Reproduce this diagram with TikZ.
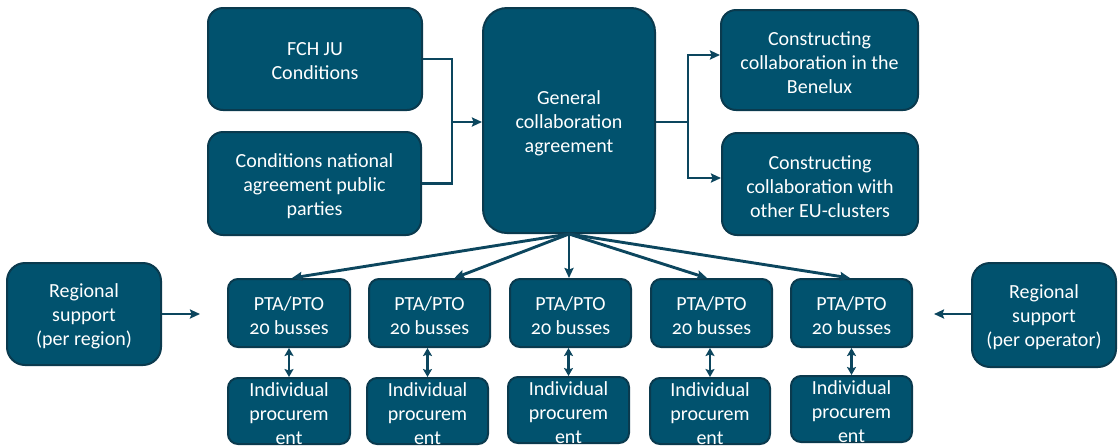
\documentclass[tikz,border=0pt]{standalone}
\usepackage{fontspec}
\setmainfont{Carlito}[Numbers=OldStyle]
\usetikzlibrary{arrows.meta}
\definecolor{boxfill}{RGB}{1,82,110}
\definecolor{boxline}{RGB}{10,58,78}
\definecolor{lineclr}{RGB}{12,70,94}
\begin{document}
\begin{tikzpicture}[x=1pt,y=-1pt,
  box/.style={draw=boxline, line width=2pt, fill=boxfill, text=white, align=center,
    inner sep=0pt, font=\fontsize{20}{24}\selectfont},
  boxtext/.style={text=white, align=center, inner sep=0pt, font=\fontsize{20}{24}\selectfont, yshift=-2.5pt},
  txt/.style={label={[boxtext]center:#1}},
  bigbox/.style={box, rounded corners=15pt},
  smallbox/.style={box, rounded corners=10pt, minimum height=68pt},
  indbox/.style={box, rounded corners=10pt, minimum height=66pt},
  link/.style={draw=lineclr, line width=2.9pt},
  arr/.style={link, -{Stealth[length=10pt,width=9pt,inset=1.5pt]}},
  dbl/.style={link, {Stealth[length=8pt,width=9pt,inset=1.5pt]}-{Stealth[length=8pt,width=9pt,inset=1.5pt]}}]
\useasboundingbox (0,0) rectangle (1118,445);
\clip (0,0) rectangle (1118,445);

% top row
\node[bigbox, minimum width=214pt, minimum height=102pt, txt={FCH JU\\Conditions}] (fch) at (315,59) {};
\node[bigbox, minimum width=213pt, minimum height=103pt, txt={Conditions national\\agreement public\\parties}] (cond) at (314.5,183.5) {};
\node[box, rounded corners=24pt, minimum width=172pt, minimum height=225pt, txt={General\\collaboration\\agreement}] (gen) at (569,120.5) {};
\node[bigbox, minimum width=197pt, minimum height=100pt, txt={Constructing\\collaboration in the\\Benelux}] (ben) at (819.5,60) {};
\node[bigbox, minimum width=196pt, minimum height=102pt, txt={Constructing\\collaboration with\\other EU-clusters}] (eu) at (820,184) {};

% regional support
\node[box, rounded corners=18pt, minimum width=154pt, minimum height=102pt, txt={Regional\\support\\(per region)}] (regl) at (84,314) {};
\node[box, rounded corners=18pt, minimum width=144pt, minimum height=104pt, txt={Regional\\support\\(per operator)}] (regr) at (1044,315) {};

% PTA/PTO row
\node[smallbox, minimum width=122pt, txt={PTA/PTO\\20 busses}] (pta1) at (289,313) {};
\node[smallbox, minimum width=121pt, txt={PTA/PTO\\20 busses}] (pta2) at (429.5,313) {};
\node[smallbox, minimum width=121pt, txt={PTA/PTO\\20 busses}] (pta3) at (570.5,313) {};
\node[smallbox, minimum width=121pt, txt={PTA/PTO\\20 busses}] (pta4) at (711.5,313) {};
\node[smallbox, minimum width=121pt, txt={PTA/PTO\\20 busses}] (pta5) at (851.5,313) {};

% individual procurement row
\node[indbox, minimum width=122pt, txt={Individual\\procurem\\ent}] (ind1) at (289,411) {};
\node[indbox, minimum width=121pt, txt={Individual\\procurem\\ent}] (ind2) at (427.5,411) {};
\node[indbox, minimum width=121pt, txt={Individual\\procurem\\ent}] (ind3) at (568.5,410) {};
\node[indbox, minimum width=120pt, txt={Individual\\procurem\\ent}] (ind4) at (710,411) {};
\node[indbox, minimum width=121pt, txt={Individual\\procurem\\ent}] (ind5) at (851.5,409) {};

% top-left joins
\coordinate (jl) at (452,122);
\draw[link] (fch.east) -| (jl) |- (cond.east);
\draw[arr] (jl) -- (jl -| gen.west);

% top-right split
\coordinate (jr) at (688,122);
\draw[link] (jr -| gen.east) -- (jr);
\draw[arr] (jr) |- ([yshift=5pt]ben.west);
\draw[arr] (jr) |- ([yshift=6pt]eu.west);

% fan out to PTA/PTO
\draw[arr] (gen.south) -- ([xshift=3pt]pta1.north);
\draw[arr] (gen.south) -- ([xshift=25pt]pta2.north);
\draw[arr] (gen.south) -- ([xshift=-1.5pt]pta3.north);
\draw[arr] (gen.south) -- ([xshift=-4.5pt]pta4.north);
\draw[arr] (gen.south) -- ([xshift=-1.5pt]pta5.north);

% regional support arrows
\coordinate (rl) at (200,314);
\coordinate (rr) at (934,314);
\draw[arr] (regl.east) -- (rl);
\draw[arr] (regr.west |- rr) -- (rr);

% double arrows
\draw[dbl] (pta1.south) -- (ind1.north);
\draw[dbl] (ind2.north |- pta2.south) -- (ind2.north);
\draw[dbl] (ind3.north |- pta3.south) -- (ind3.north);
\draw[dbl] (ind4.north |- pta4.south) -- (ind4.north);
\draw[dbl] (pta5.south) -- (pta5.south |- ind5.north);
\end{tikzpicture}
\end{document}
